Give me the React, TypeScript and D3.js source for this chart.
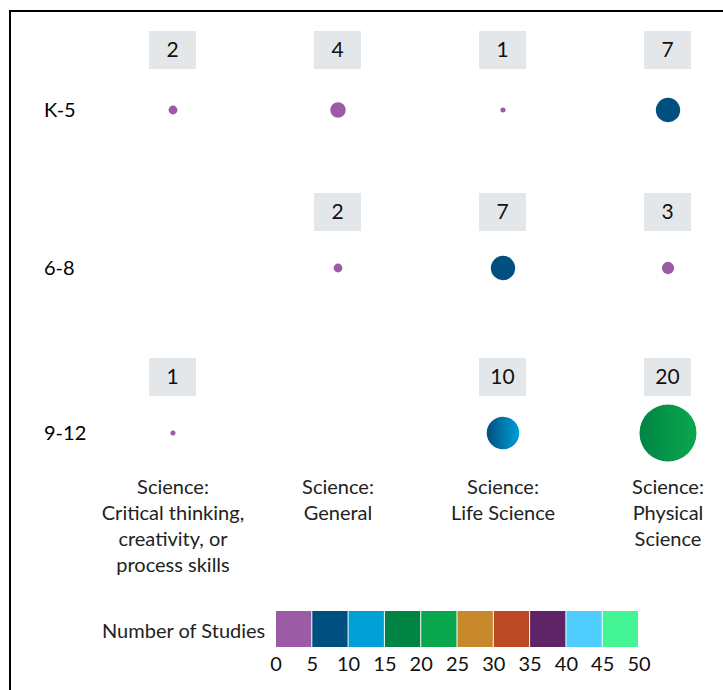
import React from "react";
import * as d3 from "d3";

const rows = ["K-5", "6-8", "9-12"];
const columns = [
  ["Science:", "Critical thinking,", "creativity, or", "process skills"],
  ["Science:", "General"],
  ["Science:", "Life Science"],
  ["Science:", "Physical", "Science"],
];
const valuesK5 = [2, 4, 1, 7];
const values68 = [null, 2, 7, 3];
const values912 = [1, null, 10, 20];
const legendBins = [0, 5, 10, 15, 20, 25, 30, 35, 40, 45, 50];
const legendColors = [
  "#9b5ba5", "#00507f", "#009fd6", "#008444", "#0aa74e",
  "#c6882a", "#bb4a24", "#5e2466", "#4fcdfd", "#43f595",
];

const FONT = "Lato, 'Noto Sans', sans-serif";

export default function App() {
  const W = 723, H = 690;
  const matrix = [valuesK5, values68, values912];
  const x = d3.scalePoint<number>().domain(d3.range(columns.length)).range([173, 668]);
  const y = d3.scaleOrdinal<string, number>().domain(rows).range([110, 268, 433]);
  const boxOffset = d3.scaleOrdinal<string, number>().domain(rows).range([79, 75, 75]);
  const r = d3.scalePow().exponent(0.81).domain([0, 20]).range([0, 28.5]);
  const binIndex = (v: number) => Math.min(legendColors.length - 1, Math.floor(v / 5));
  const lx = d3.scaleLinear().domain([0, 50]).range([276, 639]);

  const cells: { ri: number; ci: number; v: number }[] = [];
  matrix.forEach((row, ri) => row.forEach((v, ci) => { if (v != null) cells.push({ ri, ci, v }); }));

  return (
    <svg width={W} height={H} style={{ position: "absolute", left: 0, top: 0, background: "#fff" }}>
      <defs>
        {cells.filter(c => c.v % 5 === 0 && c.v > 0).map(c => (
          <linearGradient key={`g${c.ri}${c.ci}`} id={`g${c.ri}-${c.ci}`} x1="0" x2="1" y1="0" y2="0">
            <stop offset="0" stopColor={legendColors[binIndex(c.v) - 1]} />
            <stop offset="1" stopColor={legendColors[binIndex(c.v)]} />
          </linearGradient>
        ))}
      </defs>
      <rect x={10} y={11} width={W + 10} height={H + 10} fill="none" stroke="#000" strokeWidth={2} />
      {rows.map(rw => (
        <text key={rw} x={44} y={y(rw) + 7} fontFamily={FONT} fontSize={20} fill="#000">{rw}</text>
      ))}
      {cells.map(c => {
        const cx = x(c.ci) as number;
        const rw = rows[c.ri];
        const cy = y(rw);
        const top = cy - boxOffset(rw);
        const grad = c.v % 5 === 0 && c.v > 0;
        return (
          <g key={`${c.ri}-${c.ci}`}>
            <rect x={cx - 24} y={top} width={47} height={38} fill="#e4e7ea" />
            <text x={cx - 0.5} y={top + 26} textAnchor="middle" fontFamily={FONT} fontSize={21} fill="#111">{c.v}</text>
            <circle cx={cx} cy={cy} r={r(c.v)} fill={grad ? `url(#g${c.ri}-${c.ci})` : legendColors[binIndex(c.v)]} />
          </g>
        );
      })}
      {columns.map((lines, ci) => (
        <text key={ci} x={x(ci) as number} y={494} textAnchor="middle" fontFamily={FONT} fontSize={20} fill="#222">
          {lines.map((l, i) => (
            <tspan key={i} x={x(ci) as number} dy={i === 0 ? 0 : 26}>{l}</tspan>
          ))}
        </text>
      ))}
      <text x={102} y={638} fontFamily={FONT} fontSize={20} fill="#222">Number of Studies</text>
      {legendColors.map((col, i) => (
        <rect key={col} x={lx(legendBins[i])} y={611} width={lx(legendBins[i + 1]) - lx(legendBins[i]) - 1} height={36} fill={col} />
      ))}
      {legendBins.map(b => (
        <text key={b} x={lx(b)} y={671} textAnchor="middle" fontFamily={FONT} fontSize={20} fill="#111">{b}</text>
      ))}
    </svg>
  );
}
